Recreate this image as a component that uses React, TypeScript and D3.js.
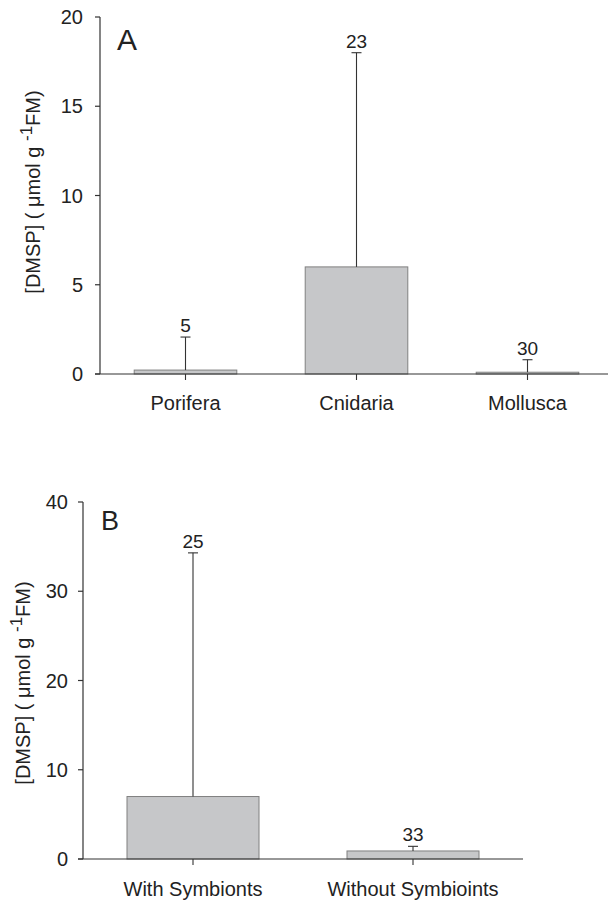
import React from 'react';
import * as d3 from 'd3';

// panel A: phyla
const phyla = ['Porifera', 'Cnidaria', 'Mollusca'];
const phylaMean = [0.22, 6.0, 0.1];
const phylaErr = [1.85, 12.0, 0.7];
const phylaN = ['5', '23', '30'];
const ticksA = [0, 5, 10, 15, 20];

// panel B: symbionts
const groups = ['With Symbionts', 'Without Symbioints'];
const groupMean = [7.0, 0.9];
const groupErr = [27.3, 0.52];
const groupN = ['25', '33'];
const ticksB = [0, 10, 20, 30, 40];

const FONT = '"Liberation Sans", Arial, sans-serif';
const INK = '#222';

type PanelProps = {
  letter: string;
  cats: string[];
  mean: number[];
  err: number[];
  n: string[];
  ticks: number[];
  x0: number;
  x1: number;
  axisEnd: number;
  y0: number;
  y1: number;
  labelX: number;
  labelY: number;
  catDy: number;
  tickGap: number;
  letterX: number;
  letterY: number;
  letterSize: number;
};

function Panel(p: PanelProps) {
  const x = d3.scaleBand().domain(p.cats).range([p.x0, p.x1]).paddingInner(0.4).paddingOuter(0.2);
  const y = d3.scaleLinear().domain([0, p.ticks[p.ticks.length - 1]]).range([p.y0, p.y1]);
  const bw = x.bandwidth();

  return (
    <g fontFamily={FONT} fill={INK}>
      {/* y axis */}
      <line x1={p.x0} x2={p.x0} y1={y(0)} y2={p.y1} stroke="#333" strokeWidth={1.2} />
      {p.ticks.map(t => (
        <g key={t}>
          <line x1={p.x0 - 5} x2={p.x0} y1={y(t)} y2={y(t)} stroke="#333" strokeWidth={1.2} />
          <text x={p.x0 - p.tickGap} y={y(t)} dy="0.35em" textAnchor="end" fontSize={20}>{t}</text>
        </g>
      ))}
      {/* bars */}
      {p.cats.map((c, i) => {
        const cx = (x(c) as number) + bw / 2;
        const top = y(p.mean[i] + p.err[i]);
        return (
          <g key={c}>
            <rect x={x(c)} y={y(p.mean[i])} width={bw} height={y(0) - y(p.mean[i])}
              fill="#c6c7c9" stroke="#808080" strokeWidth={1} />
            <line x1={cx} x2={cx} y1={y(p.mean[i])} y2={top} stroke="#333" strokeWidth={1.1} />
            <line x1={cx - 5} x2={cx + 5} y1={top} y2={top} stroke="#333" strokeWidth={1.1} />
            <text x={cx} y={top - 5} textAnchor="middle" fontSize={19}>{p.n[i]}</text>
            <line x1={cx} x2={cx} y1={y(0)} y2={y(0) + 6} stroke="#333" strokeWidth={1.1} />
            <text x={cx} y={y(0) + p.catDy} textAnchor="middle" fontSize={20}>{c}</text>
          </g>
        );
      })}
      {/* x axis */}
      <line x1={p.x0 - 5} x2={p.axisEnd} y1={y(0)} y2={y(0)} stroke="#333" strokeWidth={1.2} />
      {/* y label */}
      <text transform={`translate(${p.labelX},${p.labelY}) rotate(-90)`} textAnchor="middle" fontSize={20}>
        [DMSP] ( μmol g <tspan dy={-8} fontSize={17}>-1</tspan><tspan dy={8}>FM)</tspan>
      </text>
      <text x={p.letterX} y={p.letterY} fontSize={p.letterSize}>{p.letter}</text>
    </g>
  );
}

export default function App() {
  return (
    <svg width={608} height={901} style={{ position: 'absolute', left: 0, top: 0, background: '#fff' }}>
      <rect width={608} height={901} fill="#fff" />
      <Panel letter="A" cats={phyla} mean={phylaMean} err={phylaErr} n={phylaN} ticks={ticksA}
        x0={100} x1={613} axisEnd={608} y0={374} y1={17} labelX={40} labelY={192}
        catDy={36} tickGap={17} letterX={117} letterY={50} letterSize={30} />
      <Panel letter="B" cats={groups} mean={groupMean} err={groupErr} n={groupN} ticks={ticksB}
        x0={83} x1={523} axisEnd={523} y0={859} y1={502} labelX={30} labelY={683}
        catDy={37} tickGap={15} letterX={101} letterY={530} letterSize={27} />
    </svg>
  );
}
